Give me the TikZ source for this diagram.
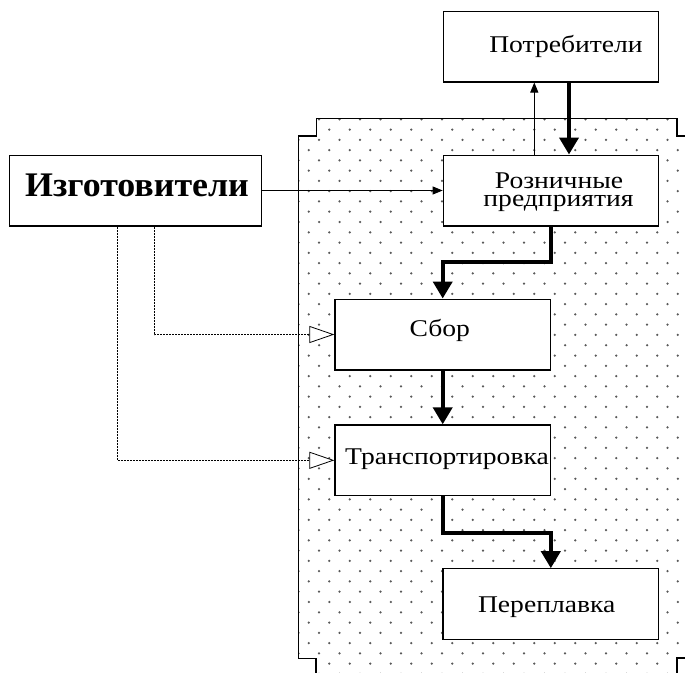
\documentclass[tikz,border=0pt]{standalone}
\usepackage{fontspec}
\setmainfont{Liberation Serif}[FakeStretch=1.15]
\newfontfamily\izgfont{Liberation Serif}[FakeStretch=1.04]
\usetikzlibrary{arrows.meta}
\tikzset{
  box/.style={draw=black, line width=1.2pt, fill=white, minimum width=215.5pt, minimum height=70.8pt, inner sep=0pt},
  txt/.style={anchor=base, inner sep=0pt, font=\fontsize{24}{26}\selectfont},
  bigtxt/.style={anchor=base, inner sep=0pt, font=\izgfont\fontsize{34.5}{36}\selectfont\bfseries},
  thinarrow/.style={line width=0.9pt, -{Triangle[length=10pt,width=8pt]}},
  thickarrow/.style={line width=4pt, -{Triangle[length=17pt,width=19pt]}},
  dotarrow/.style={line width=0.8pt, dash pattern=on 2pt off 1pt, -{Triangle[open,length=25pt,width=17pt,fill=white]}},
  region/.style={line width=1.5pt},
  dotc/.style={fill=black!65}
}
\begin{document}
\begin{tikzpicture}[x=1pt,y=-1pt]
\useasboundingbox (0,0) rectangle (685,672);
\clip (0,0) rectangle (685,672);
% dotted region
\begin{scope}
\clip (298.3,136) -- (316.7,136) -- (316.7,118.3) -- (677,118.3) -- (677,136) -- (690,136) -- (690,658) -- (677,658) -- (677,680) -- (316,680) -- (316,658.3) -- (298.3,658.3) -- cycle;
\foreach \j in {0,...,54} {
  \foreach \k in {-1,...,18} {
    \fill[dotc] ({319+20.5*\k-10.25*mod(\j,2)},{119.3+10.27*\j}) circle (1.25pt);
  }
}
\end{scope}
\draw[region] (690,136) -- (677,136) -- (677,118.3) -- (316.7,118.3) -- (316.7,136) -- (298.3,136) -- (298.3,658.3) -- (316,658.3) -- (316,680);
\draw[region] (677,680) -- (677,658) -- (690,658);
% boxes
\node[box] (potr) at (551,46.5) {};
\node[box] (rozn) at (551,190.5) {};
\node[box, minimum width=252pt] (izg) at (135.7,190.5) {};
\node[box] (sbor) at (442.7,334.5) {};
\node[box] (trans) at (442.7,460.3) {};
\node[box] (perepl) at (550.8,604.2) {};
% texts
\node[txt] (tpotr) at (566,52.5) {Потребители};
\node[txt] (trozn1) at (559,188) {Розничные};
\node[txt] (trozn2) at (558.5,206) {предприятия};
\node[txt] (tsbor) at (439.7,336.5) {Сбор};
\node[txt] (ttrans) at (447,464.5) {Транспортировка};
\node[txt] (tperepl) at (546.7,612.5) {Переплавка};
\node[bigtxt] (tizg) at (137,196.7) {Изготовители};
% connectors
\draw[thinarrow] (izg.east) -- (rozn.west);
\draw[thinarrow] ([xshift=-16.7pt]rozn.north) -- ([xshift=-16.7pt]potr.south);
\draw[thickarrow] ([xshift=18pt]potr.south) -- ([xshift=18pt]rozn.north);
\draw[thickarrow] (rozn.south) -- ++(0,35.6) -| (sbor.north);
\draw[thickarrow] (sbor.south) -- (trans.north);
\draw[thickarrow] (trans.south) -- ++(0,36.4) -| (perepl.north);
\draw[dotarrow] ([xshift=18.3pt]izg.south) |- (sbor.west);
\draw[dotarrow] ([xshift=-18pt]izg.south) |- (trans.west);
\end{tikzpicture}
\end{document}
